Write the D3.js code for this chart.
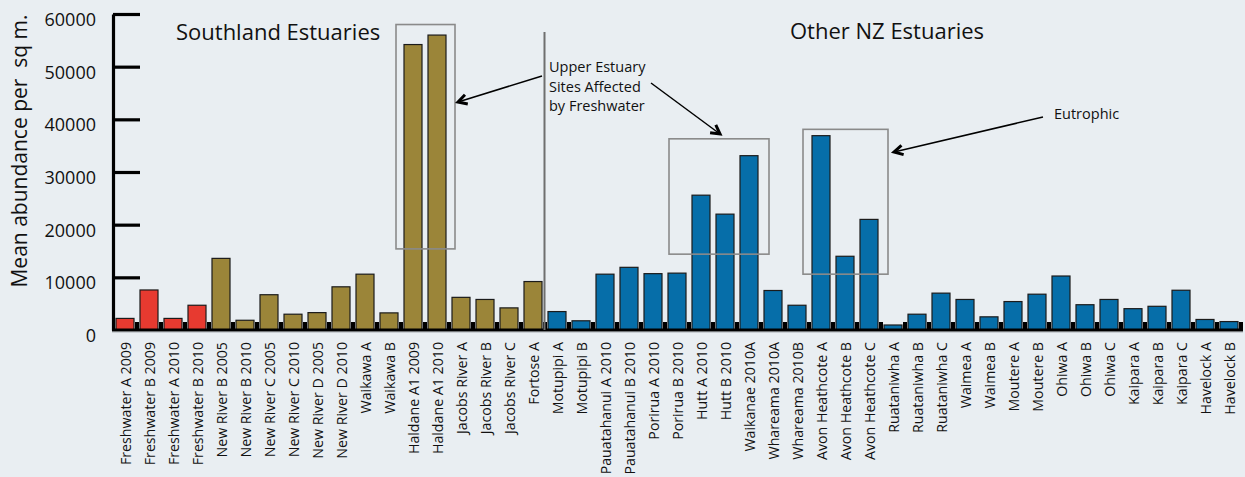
<!DOCTYPE html>
<html><head><meta charset="utf-8">
<script src="https://cdn.jsdelivr.net/npm/d3@7"></script>
<style>body{margin:0;background:#e9eef2}svg{display:block}</style>
</head><body><svg id="c" width="1245" height="477"></svg>
<script>
const categories = [
  "Freshwater A 2009","Freshwater B 2009","Freshwater A 2010","Freshwater B 2010",
  "New River B 2005","New River B 2010","New River C 2005","New River C 2010",
  "New River D 2005","New River D 2010","Waikawa A","Waikawa B",
  "Haldane A1 2009","Haldane A1 2010","Jacobs River A","Jacobs River B","Jacobs River C","Fortose A",
  "Motupipi A","Motupipi B","Pauatahanui A 2010","Pauatahanui B 2010","Porirua A 2010","Porirua B 2010",
  "Hutt A 2010","Hutt B 2010","Waikanae 2010A","Whareama 2010A","Whareama 2010B",
  "Avon Heathcote A","Avon Heathcote B","Avon Heathcote C",
  "Ruataniwha A","Ruataniwha B","Ruataniwha C","Waimea A","Waimea B","Moutere A","Moutere B",
  "Ohiwa A","Ohiwa B","Ohiwa C","Kaipara A","Kaipara B","Kaipara C","Havelock A","Havelock B"
];
const values = [
  2200,7600,2200,4700,
  13600,1850,6700,3000,
  3300,8200,10600,3250,
  54200,56000,6200,5800,4200,9200,
  3500,1750,10600,11900,10700,10800,
  25600,22000,33100,7500,4700,
  36900,14000,21000,
  950,3000,7000,5800,2500,5400,6800,
  10250,4800,5800,4050,4500,7550,2000,1600
];
const groups = [
  "fresh","fresh","fresh","fresh",
  "south","south","south","south","south","south","south","south","south","south","south","south","south","south",
  "other","other","other","other","other","other","other","other","other","other","other","other","other","other",
  "other","other","other","other","other","other","other","other","other","other","other","other","other","other","other"
];
const yTicks = [0,10000,20000,30000,40000,50000,60000];
const groupColors = {fresh:"#e73a30", south:"#9b8539", other:"#066ea9"};

const svg = d3.select("#c");
const FONT = "'Open Sans', 'Noto Sans', sans-serif";
svg.append("rect").attr("width",1245).attr("height",477).attr("fill","#e9eef2");

const x = d3.scaleBand().domain(categories).range([113,1241]).paddingInner(0.25).paddingOuter(0.125);
const y = d3.scaleLinear().domain([0,60000]).range([330,14]);
const step = x.step(), bw = x.bandwidth(), pad = (step - bw)/2;

const data = categories.map((c,i)=>({c, v:values[i], g:groups[i]}));

// bars
svg.append("g").selectAll("rect").data(data).join("rect")
  .attr("x", d=>x(d.c)).attr("width", bw)
  .attr("y", d=>y(d.v)).attr("height", d=>y(0)-y(d.v))
  .attr("fill", d=>groupColors[d.g]).attr("stroke","#1b1b1b").attr("stroke-width",1.2);

// x axis baseline and little ticks between bars
svg.append("line").attr("x1",112).attr("x2",1243).attr("y1",y(0)+2.5).attr("y2",y(0)+2.5)
  .attr("stroke","#c9ced3").attr("stroke-width",1);
svg.append("line").attr("x1",112).attr("x2",1243).attr("y1",y(0)).attr("y2",y(0))
  .attr("stroke","#000").attr("stroke-width",3);
svg.append("g").selectAll("line").data(categories).join("line")
  .attr("x1", d=>x(d)+bw+pad).attr("x2", d=>x(d)+bw+pad)
  .attr("y1", y(0)-8).attr("y2", y(0))
  .attr("stroke","#000").attr("stroke-width",4);

// y axis
const yAxis = svg.append("g").attr("transform","translate(113,0)")
  .call(d3.axisRight(y).tickValues(yTicks).tickSize(27).tickSizeOuter(0).tickFormat(""));
yAxis.select(".domain").attr("stroke","#000").attr("stroke-width",3.2);
yAxis.selectAll(".tick line").attr("stroke","#000").attr("stroke-width",3.2);
yAxis.selectAll(".tick").filter(d=>d===0).remove();

svg.append("g").selectAll("text").data(yTicks).join("text")
  .attr("x",96).attr("y",d=>y(d)+12)
  .attr("text-anchor","end").attr("font-family",FONT).attr("font-size",18).attr("fill","#111")
  .text(d=>d);

// y title
svg.append("text").attr("transform","translate(27,151) rotate(-90)")
  .attr("text-anchor","middle").attr("font-family",FONT).attr("font-size",21).attr("fill","#111")
  .attr("xml:space","preserve").style("white-space","pre")
  .text("Mean abundance per  sq m.");

// x labels
svg.append("g").selectAll("text").data(categories).join("text")
  .attr("transform", d=>`translate(${x(d)+bw/2+1},342) rotate(-90)`)
  .attr("dy","0.36em").attr("text-anchor","end")
  .attr("font-family",FONT).attr("font-size",14.2).attr("fill","#111")
  .text(d=>d);

// section titles
svg.append("text").attr("x",176).attr("y",40).attr("font-family",FONT).attr("font-size",22).attr("fill","#111").text("Southland Estuaries");
svg.append("text").attr("x",790).attr("y",39).attr("font-family",FONT).attr("font-size",22).attr("fill","#111").text("Other NZ Estuaries");

// divider between the two estuary groups
svg.append("line").attr("x1",544.5).attr("x2",544.5).attr("y1",32).attr("y2",y(0))
  .attr("stroke","#6f6f6f").attr("stroke-width",2);

// highlight boxes
function box(first,last,l,r,top,bot){
  svg.append("rect")
    .attr("x", x(first)+l).attr("y", y(top))
    .attr("width", (x(last)+bw+r) - (x(first)+l))
    .attr("height", y(bot)-y(top))
    .attr("fill","none").attr("stroke","#8a8a8a").attr("stroke-width",1.6);
}
box("Haldane A1 2009","Haldane A1 2010",-8,9,58000,15400);
box("Hutt A 2010","Waikanae 2010A",-23,11,36300,14400);
box("Avon Heathcote A","Avon Heathcote C",-9,10,38100,10600);

// annotations
function arrow(x1,y1,x2,y2){
  svg.append("line").attr("x1",x1).attr("y1",y1).attr("x2",x2).attr("y2",y2)
    .attr("stroke","#000").attr("stroke-width",1.5);
  const a = Math.atan2(y2-y1,x2-x1), L=10, s=0.5;
  const p1=[x2-L*Math.cos(a-s), y2-L*Math.sin(a-s)], p2=[x2-L*Math.cos(a+s), y2-L*Math.sin(a+s)];
  svg.append("path").attr("d",`M${p1}L${x2},${y2}L${p2}`)
    .attr("fill","none").attr("stroke","#000").attr("stroke-width",3).attr("stroke-linejoin","miter");
}
const ann = svg.append("text").attr("font-family",FONT).attr("font-size",14.5).attr("fill","#111");
["Upper Estuary","Sites Affected","by Freshwater"].forEach((t,i)=>{
  ann.append("tspan").attr("x",549).attr("y",72+i*19.6).text(t);
});
arrow(542,76,458,102);
arrow(651,83,720,134);
svg.append("text").attr("x",1054).attr("y",119).attr("font-family",FONT).attr("font-size",14.5).attr("fill","#111").text("Eutrophic");
arrow(1043,117,894,152);
</script></body></html>
